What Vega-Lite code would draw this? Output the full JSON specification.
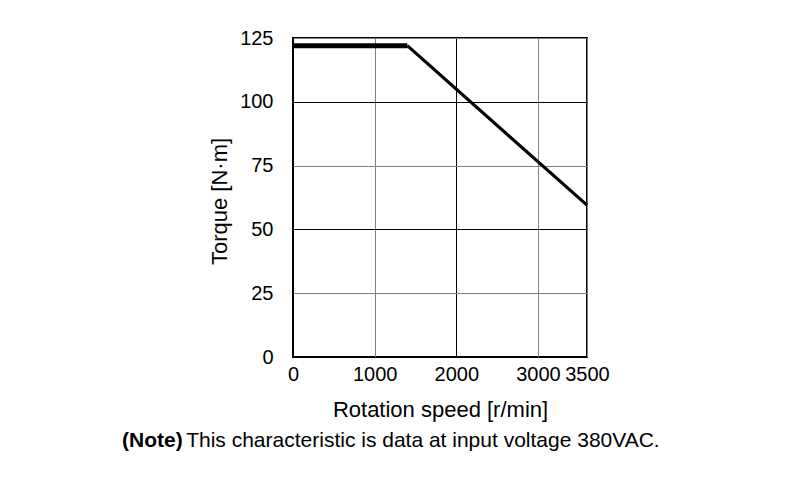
{
  "$schema": "https://vega.github.io/schema/vega-lite/v6.json",
  "width": 294,
  "height": 319,
  "autosize": {"type": "none"},
  "padding": {"left": 293, "top": 38, "right": 211, "bottom": 120},
  "background": "white",
  "title": {
    "text": "(Note)",
    "subtitle": "\u200b\u00a0\u00a0\u00a0\u00a0\u00a0\u00a0\u00a0\u00a0\u00a0\u00a0\u00a0This characteristic is data at input voltage 380VAC.",
    "orient": "bottom",
    "anchor": "start",
    "frame": "group",
    "align": "left",
    "dx": -171,
    "offset": 10,
    "font": "Liberation Sans",
    "fontSize": 21,
    "fontWeight": "bold",
    "color": "black",
    "subtitleFont": "Liberation Sans",
    "subtitleFontSize": 21,
    "subtitleFontWeight": "normal",
    "subtitleColor": "black",
    "subtitlePadding": -21
  },
  "data": {
    "values": [
      {"speed": 0, "torque": 122, "segment": "flat"},
      {"speed": 1400, "torque": 122, "segment": "flat"},
      {"speed": 1400, "torque": 122, "segment": "slope"},
      {"speed": 3500, "torque": 59.5, "segment": "slope"}
    ]
  },
  "encoding": {
    "x": {
      "field": "speed",
      "type": "quantitative",
      "scale": {"domain": [0, 3000, 3500], "range": [0, 245, 294], "nice": false, "zero": false},
      "axis": {
        "values": [0, 1000, 2000, 3000, 3500],
        "format": "d",
        "grid": true,
        "gridColor": {"condition": {"test": "datum.value % 2000 === 0", "value": "#000000"}, "value": "#808080"},
        "gridWidth": 1,
        "gridOpacity": 1,
        "domain": false,
        "ticks": false,
        "labelFont": "Liberation Sans",
        "labelFontSize": 20,
        "labelColor": "black",
        "labelPadding": 7,
        "labelOverlap": false,
        "labelFlush": false,
        "labelBound": false,
        "title": "Rotation speed [r/min]",
        "titleFont": "Liberation Sans",
        "titleFontSize": 22,
        "titleFontWeight": "normal",
        "titleColor": "black",
        "titleBaseline": "alphabetic",
        "titleY": 59
      }
    },
    "y": {
      "field": "torque",
      "type": "quantitative",
      "scale": {"domain": [0, 125], "nice": false},
      "axis": {
        "values": [0, 25, 50, 75, 100, 125],
        "format": "d",
        "grid": true,
        "gridColor": {"condition": {"test": "datum.value % 50 === 0", "value": "#000000"}, "value": "#808080"},
        "gridWidth": 1,
        "gridOpacity": 1,
        "domain": false,
        "ticks": false,
        "labelFont": "Liberation Sans",
        "labelFontSize": 20,
        "labelColor": "black",
        "labelPadding": 20,
        "labelBound": false,
        "labelOverlap": false,
        "title": "Torque [N·m]",
        "titleFont": "Liberation Sans",
        "titleFontSize": 22,
        "titleFontWeight": "normal",
        "titleColor": "black",
        "titleAngle": -90,
        "titleAlign": "center",
        "titleBaseline": "middle",
        "titleX": -74,
        "titleY": 163
      }
    }
  },
  "layer": [
    {
      "transform": [{"filter": "datum.segment === 'flat'"}],
      "mark": {"type": "line", "color": "black", "strokeWidth": 5, "clip": false}
    },
    {
      "transform": [{"filter": "datum.segment === 'slope'"}],
      "mark": {"type": "line", "color": "black", "strokeWidth": 3.2, "clip": false}
    }
  ],
  "config": {
    "view": {"stroke": "black", "strokeWidth": 2}
  }
}
